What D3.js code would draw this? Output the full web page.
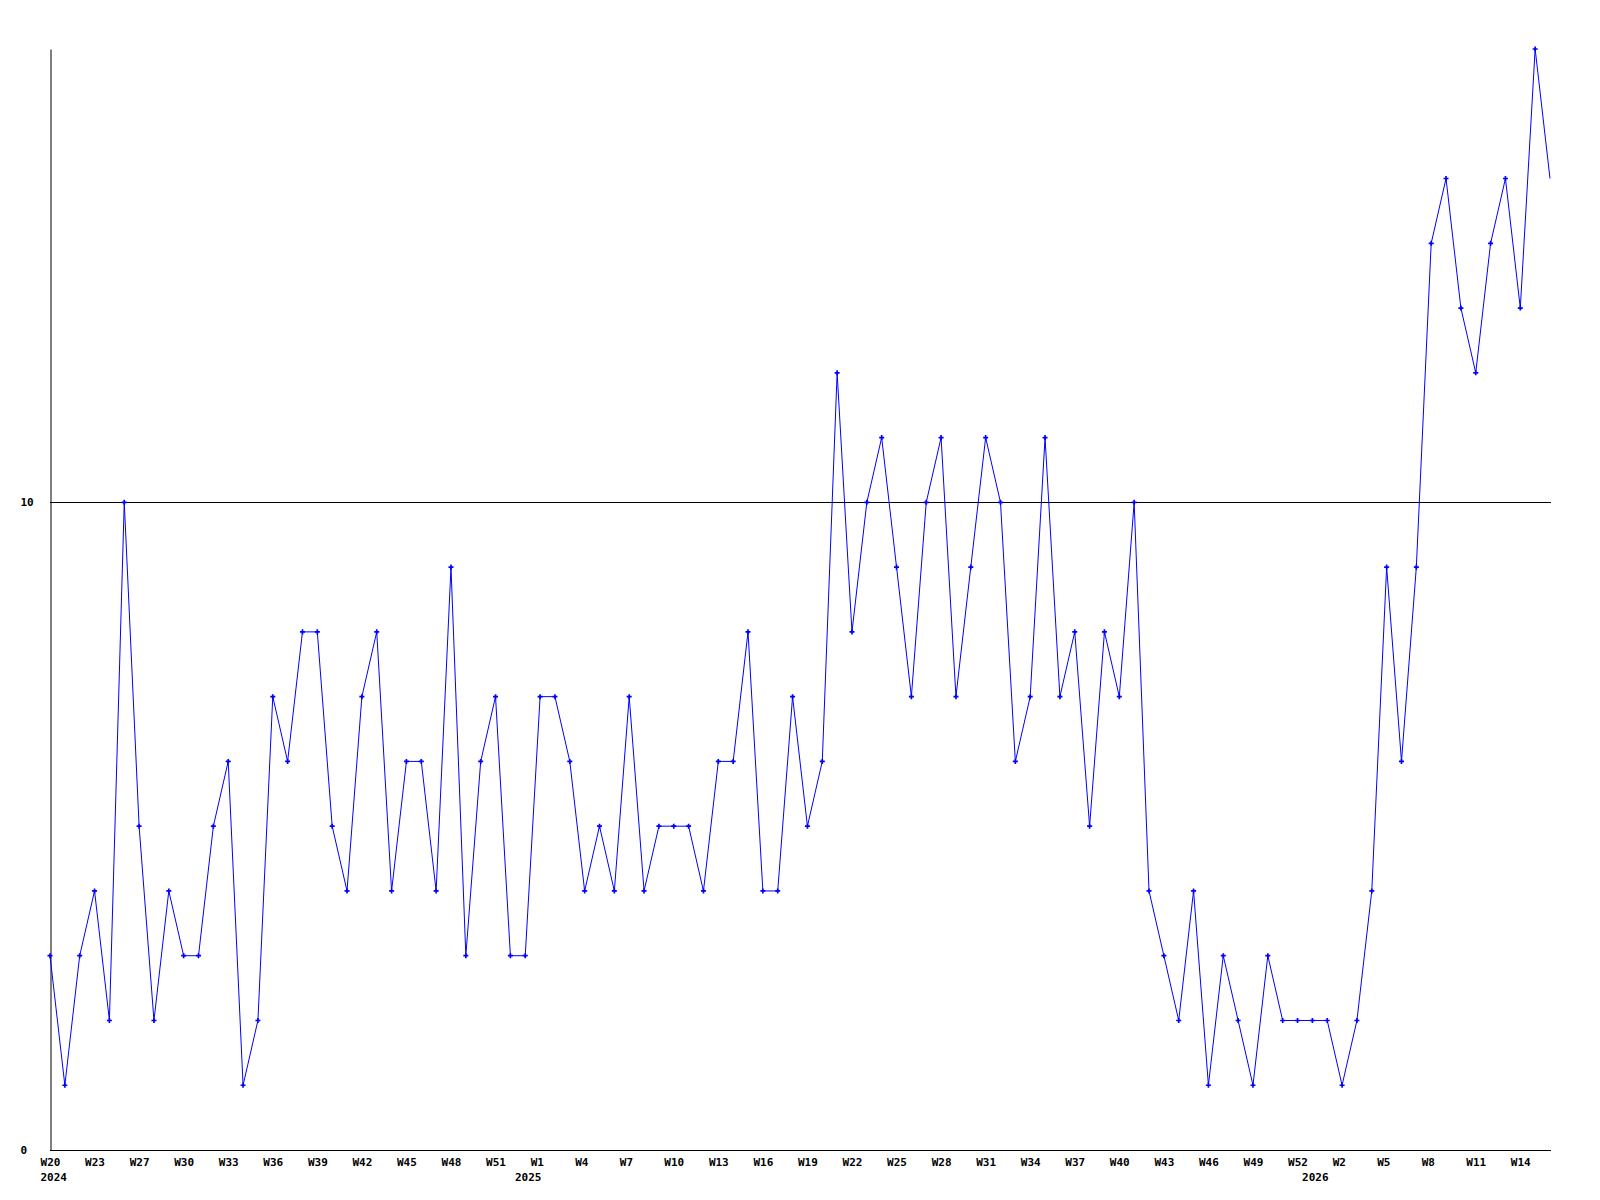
<!DOCTYPE html>
<html>
<head>
<meta charset="utf-8">
<script src="https://cdn.jsdelivr.net/npm/d3@7"></script>
<style>
  body { margin: 0; background: #fff; }
  svg text { font-family: "DejaVu Sans Mono", "Liberation Mono", monospace; font-weight: bold; font-size: 11px; fill: #000; white-space: pre; }
</style>
</head>
<body>
<svg id="chart" width="1600" height="1200"></svg>
<script>
// weekly counts, W20 2024 .. W15 2026
const values = [
  3, 1, 3, 4, 2, 10, 5, 2, 4, 3, 3, 5, 6, 1, 2, 7, 6, 8, 8, 5,
  4, 7, 8, 4, 6, 6, 4, 9, 3, 6, 7, 3, 3, 7, 7, 6, 4, 5, 4, 7,
  4, 5, 5, 5, 4, 6, 6, 8, 4, 4, 7, 5, 6, 12, 8, 10, 11, 9, 7, 10,
  11, 7, 9, 11, 10, 6, 7, 11, 7, 8, 5, 8, 7, 10, 4, 3, 2, 4, 1, 3,
  2, 1, 3, 2, 2, 2, 2, 1, 2, 4, 9, 6, 9, 14, 15, 13, 12, 14, 15, 13,
  17, 15
];

// one label every third point
const weekLabels = ["W20","W23","W27","W30","W33","W36","W39","W42","W45","W48","W51","W1",
  "W4","W7","W10","W13","W16","W19","W22","W25","W28","W31","W34","W37",
  "W40","W43","W46","W49","W52","W2","W5","W8","W11","W14"];
const labelStep = 3;

const yearLabels = ["2024", "2025", "2026"];
const yearAt = [0.25, 32.2, 85.2];

const yTicks = [0, 10];
const yMax = 17;

const svg = d3.select("#chart");

const x = d3.scaleLinear()
    .domain([0, values.length - 1])
    .range([50, 1550]);

const y = d3.scaleLinear()
    .domain([0, yMax])
    .range([1150, 49]);

// reference line at 10
svg.append("g")
    .selectAll("line")
    .data(yTicks.filter(d => d > 0))
    .enter().append("line")
    .attr("x1", x.range()[0])
    .attr("x2", x.range()[1] + 1)
    .attr("y1", d => Math.round(y(d)) + 0.5)
    .attr("y2", d => Math.round(y(d)) + 0.5)
    .attr("stroke", "#000")
    .attr("stroke-width", 1);

// axes
const xAxis = svg.append("g")
    .attr("transform", "translate(0,1150.5)")
    .call(d3.axisBottom(x)
        .tickValues(weekLabels.map((_, i) => i * labelStep))
        .tickSize(0)
        .tickFormat((d, i) => weekLabels[i].padEnd(3, " ")));
xAxis.select(".domain").attr("stroke", "#000").attr("d", `M${x.range()[0]},0H${x.range()[1] + 1}`);
xAxis.selectAll("text")
    .attr("y", 15.5)
    .attr("dy", null)
    .attr("font-size", null)
    .attr("font-family", null);

svg.append("g")
    .selectAll("text")
    .data(yearLabels)
    .enter().append("text")
    .attr("x", (d, i) => x(yearAt[i]))
    .attr("y", 1181)
    .attr("text-anchor", "middle")
    .text(d => d);

const yAxis = svg.append("g")
    .attr("transform", "translate(50.5,0)")
    .call(d3.axisLeft(y).tickValues(yTicks).tickSize(0).tickFormat(d3.format("d")));
yAxis.select(".domain").attr("stroke", "#000");
yAxis.selectAll("text")
    .attr("x", -30)
    .attr("dy", "0.32em")
    .attr("text-anchor", "start")
    .attr("font-size", null)
    .attr("font-family", null);

// series
const line = d3.line()
    .x((d, i) => x(i))
    .y(d => y(d));

svg.append("path")
    .datum(values)
    .attr("fill", "none")
    .attr("stroke", "#0000ff")
    .attr("stroke-width", 1)
    .attr("d", line);

svg.append("g")
    .selectAll("path")
    .data(values.slice(0, values.length - 1))
    .enter().append("path")
    .attr("transform", (d, i) => `translate(${x(i)},${y(d)})`)
    .attr("d", d3.symbol().type(d3.symbolCross).size(14))
    .attr("fill", "#0000ff");
</script>
</body>
</html>
